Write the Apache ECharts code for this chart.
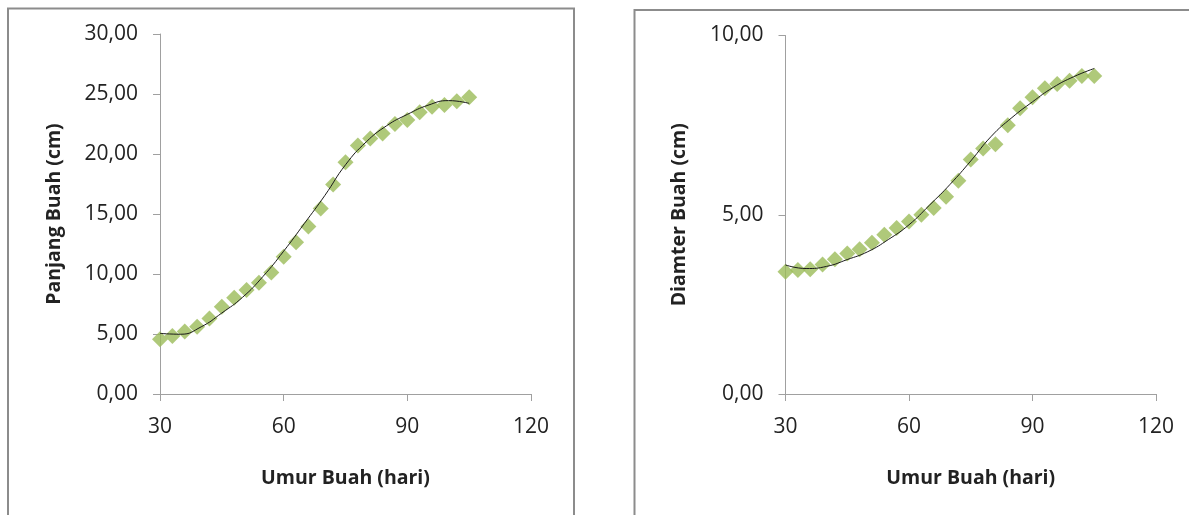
<!DOCTYPE html>
<html>
<head>
<meta charset="utf-8">
<script src="https://cdn.jsdelivr.net/npm/echarts@6/dist/echarts.min.js"></script>
<style>
html,body{margin:0;padding:0;background:#fff;}
#c{width:1189px;height:515px;}
</style>
</head>
<body>
<div id="c"></div>
<script>
// ---- data ----
const umur = [30,33,36,39,42,45,48,51,54,57,60,63,66,69,72,75,78,81,84,87,90,93,96,99,102,105];
const panjang = [4.57,4.84,5.2,5.6,6.3,7.28,8.03,8.66,9.27,10.13,11.43,12.65,13.95,15.45,17.45,19.32,20.7,21.3,21.7,22.5,22.84,23.47,23.94,24.08,24.39,24.72];
const diameter = [3.41,3.46,3.48,3.61,3.76,3.92,4.04,4.22,4.44,4.63,4.81,5.0,5.19,5.5,5.95,6.54,6.85,6.97,7.5,7.97,8.28,8.53,8.65,8.74,8.87,8.87];
const trendX = [30,35,40,45,50,55,60,65,70,75,80,85,90,95,100,105];
const trendPanjang = [5.05,4.98,5.6,6.75,8.05,9.8,11.9,14.2,16.55,19.1,21.0,22.36,23.3,24.06,24.45,24.22];
const trendDiameter = [3.6,3.5,3.56,3.75,3.97,4.31,4.72,5.27,5.85,6.5,7.19,7.71,8.15,8.55,8.85,9.08];
const xTicks = [30,60,90,120];
const xTitle = 'Umur Buah (hari)';
const yTitles = ['Panjang Buah (cm)', 'Diamter Buah (cm)'];

const pairs = (xs, ys) => xs.map((x, i) => [x, ys[i]]);
const FONT = 'Open Sans';
const axisColor = '#a0a0a0';
const fmtY = v => v.toFixed(2).replace('.', ',');

function xAxis(gi){
  return {
    type:'value', gridIndex:gi, min:xTicks[0], max:xTicks[xTicks.length-1], interval:30,
    axisLine:{show:true, onZero:false, lineStyle:{color:axisColor, width:1}},
    axisTick:{show:true, length:7, lineStyle:{color:axisColor}},
    splitLine:{show:false},
    axisLabel:{color:'#222', fontFamily:FONT, fontSize:21, margin:23},
    name:xTitle, nameLocation:'middle', nameGap:74,
    nameTextStyle:{color:'#222', fontFamily:FONT, fontSize:19.5, fontWeight:'bold'}
  };
}
function yAxis(gi, max){
  return {
    type:'value', gridIndex:gi, min:0, max:max, interval:5,
    axisLine:{show:true, lineStyle:{color:axisColor, width:1}},
    axisTick:{show:true, length:7, lineStyle:{color:axisColor}},
    splitLine:{show:false},
    axisLabel:{color:'#222', fontFamily:FONT, fontSize:21, margin:22, formatter:fmtY},
    name:yTitles[gi], nameLocation:'middle', nameGap:96, nameRotate:90,
    nameTextStyle:{color:'#222', fontFamily:FONT, fontSize:19.5, fontWeight:'bold'}
  };
}

const chart = echarts.init(document.getElementById('c'), null, {renderer:'canvas'});
chart.setOption({
  animation:false,
  backgroundColor:'#fff',
  grid:[
    {left:160, top:34, width:371, height:360},
    {left:785.5, top:35.5, width:370.5, height:358.5}
  ],
  xAxis:[xAxis(0), xAxis(1)],
  yAxis:[yAxis(0,30), yAxis(1,10)],
  graphic:[
    {type:'rect', shape:{x:8, y:8.5, width:566, height:600}, style:{fill:'none', stroke:'#8c8c8c', lineWidth:2}, silent:true},
    {type:'rect', shape:{x:634.5, y:10, width:700, height:600}, style:{fill:'none', stroke:'#8c8c8c', lineWidth:2}, silent:true}
  ],
  series:[
    {type:'scatter', xAxisIndex:0, yAxisIndex:0, data:pairs(umur, panjang), symbol:'diamond', symbolSize:16, itemStyle:{color:'#9bbb59'}, z:2},
    {type:'line', xAxisIndex:0, yAxisIndex:0, data:pairs(trendX, trendPanjang), smooth:0.5, showSymbol:false, lineStyle:{color:'#1a1a1a', width:1}, z:3},
    {type:'scatter', xAxisIndex:1, yAxisIndex:1, data:pairs(umur, diameter), symbol:'diamond', symbolSize:16, itemStyle:{color:'#9bbb59'}, z:2},
    {type:'line', xAxisIndex:1, yAxisIndex:1, data:pairs(trendX, trendDiameter), smooth:0.5, showSymbol:false, lineStyle:{color:'#1a1a1a', width:1}, z:3}
  ]
});
</script>
</body>
</html>
